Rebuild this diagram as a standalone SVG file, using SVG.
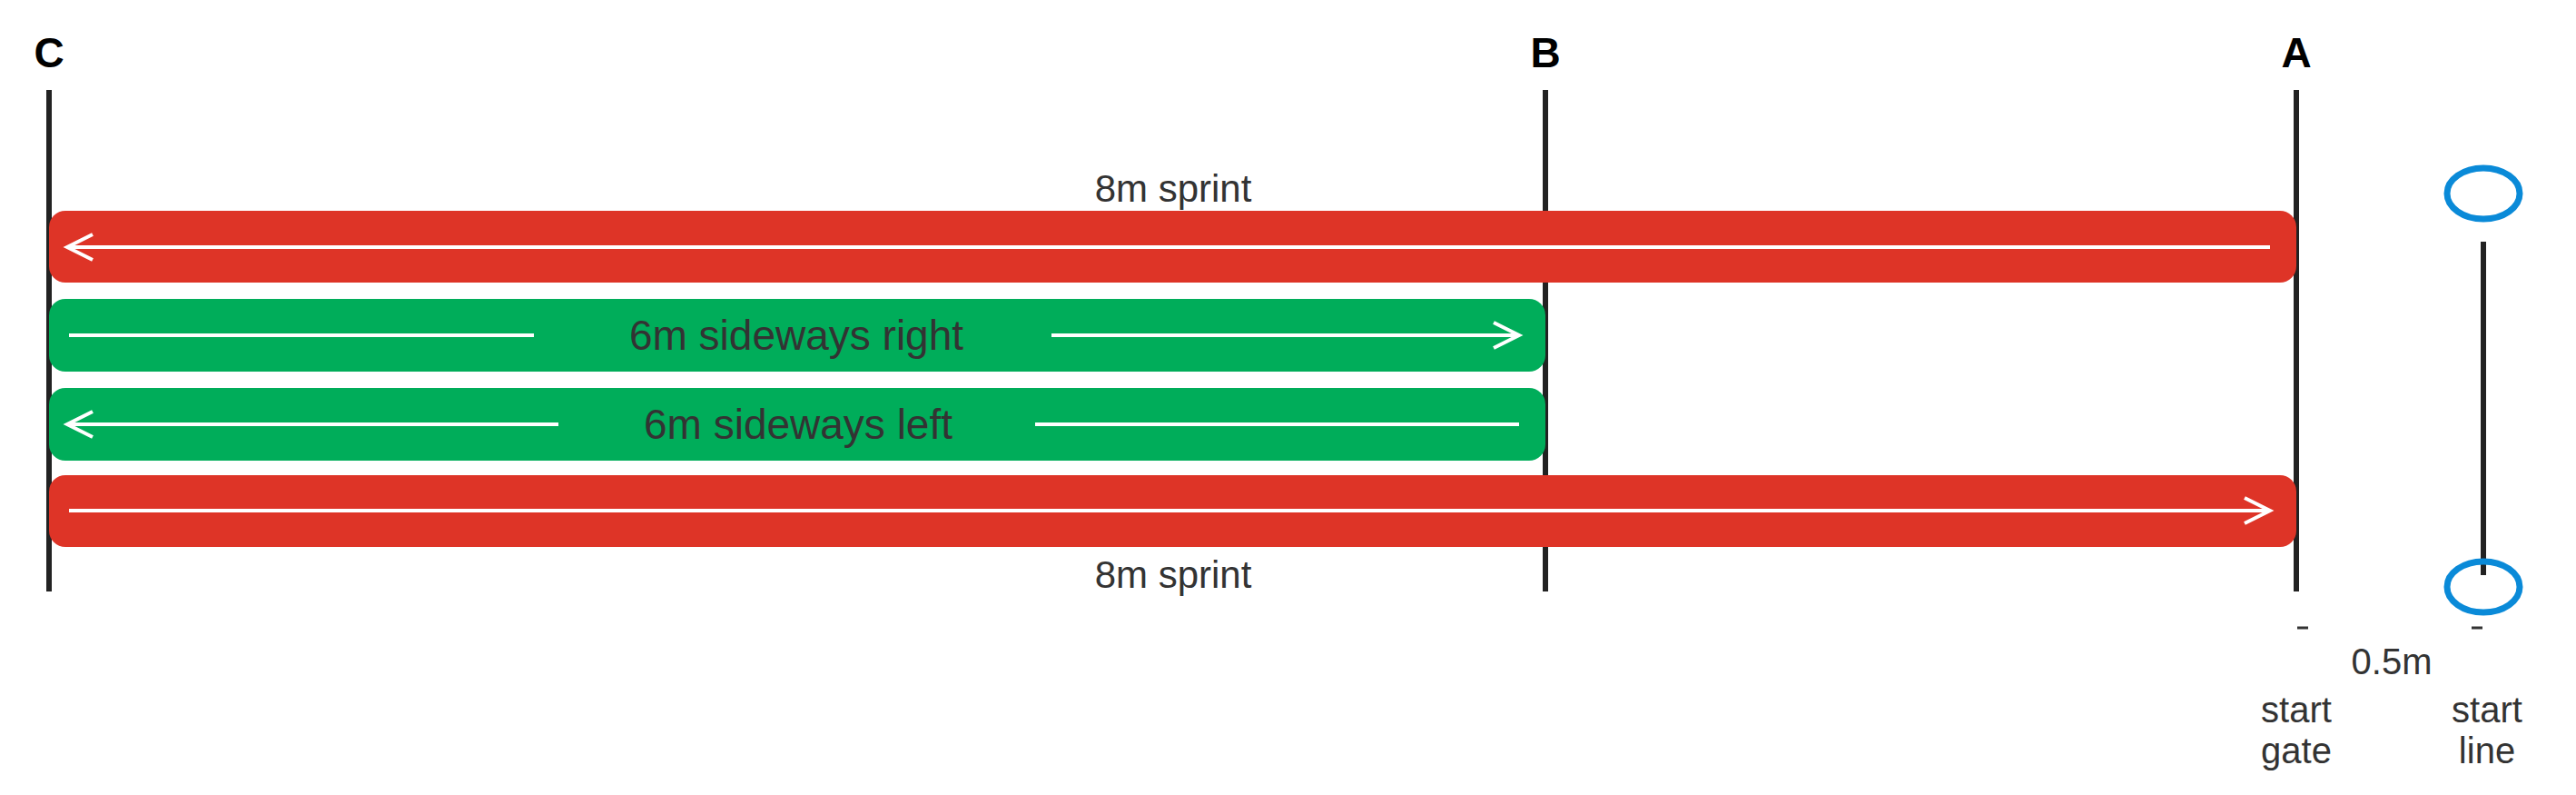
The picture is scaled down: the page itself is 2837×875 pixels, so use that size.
<svg xmlns="http://www.w3.org/2000/svg" width="2837" height="875" viewBox="0 0 2837 875">
<style>
.post{stroke:#222;stroke-width:6}
.red{fill:#de3427}
.grn{fill:#00ad5a}
.arr{stroke:#fff;stroke-width:4;fill:none}
.lbl{font-family:"Liberation Sans",Arial,sans-serif;fill:#333;text-anchor:middle}
.big{font-family:"Liberation Sans",Arial,sans-serif;font-weight:bold;font-size:46px;fill:#000;text-anchor:middle}
.ring{fill:none;stroke:#0a8ad8;stroke-width:7}
</style>
<rect width="2837" height="875" fill="#fff"/>
<g id="post-C"><line class="post" x1="54" y1="99" x2="54" y2="651"/><text class="big" x="54" y="74">C</text></g>
<g id="post-B"><line class="post" x1="1702" y1="99" x2="1702" y2="651"/><text class="big" x="1702" y="74">B</text></g>
<g id="post-A"><line class="post" x1="2529" y1="99" x2="2529" y2="651"/><text class="big" x="2529" y="74">A</text></g>
<g id="start-line">
<line class="post" x1="2735" y1="266" x2="2735" y2="633"/>
<ellipse class="ring" cx="2735" cy="213" rx="40" ry="28"/>
<ellipse class="ring" cx="2735" cy="646" rx="40" ry="28"/>
</g>
<g id="sprint1"><rect class="red" x="54" y="232" width="2475" height="79" rx="18"/>
<text class="lbl" x="1292" y="222" font-size="42">8m sprint</text></g>
<g id="side-right"><rect class="grn" x="54" y="329" width="1648" height="80" rx="18"/>
<text class="lbl" x="877" y="385" font-size="46">6m sideways right</text></g>
<g id="side-left"><rect class="grn" x="54" y="427" width="1648" height="80" rx="18"/>
<text class="lbl" x="879" y="483" font-size="46">6m sideways left</text></g>
<g id="sprint2"><rect class="red" x="54" y="523" width="2475" height="79" rx="18"/>
<text class="lbl" x="1292" y="647" font-size="42">8m sprint</text></g>
<g id="connectors">
<path class="arr" d="M2500 272H74M102 258L74 272L102 286"/>
<path class="arr" d="M76 369H588M1158 369H1673M1645 355L1673 369L1645 383"/>
<path class="arr" d="M74 467H615M1140 467H1673M102 453L74 467L102 481"/>
<path class="arr" d="M76 562H2500M2472 548L2500 562L2472 576"/>
</g>
<g id="dims">
<line x1="2530" y1="691" x2="2542" y2="691" stroke="#333" stroke-width="3"/>
<line x1="2722" y1="691" x2="2734" y2="691" stroke="#333" stroke-width="3"/>
<text class="lbl" x="2634" y="742" font-size="40">0.5m</text>
<text class="lbl" x="2529" y="795" font-size="40">start</text>
<text class="lbl" x="2529" y="840" font-size="40">gate</text>
<text class="lbl" x="2739" y="795" font-size="40">start</text>
<text class="lbl" x="2739" y="840" font-size="40">line</text>
</g>
</svg>
